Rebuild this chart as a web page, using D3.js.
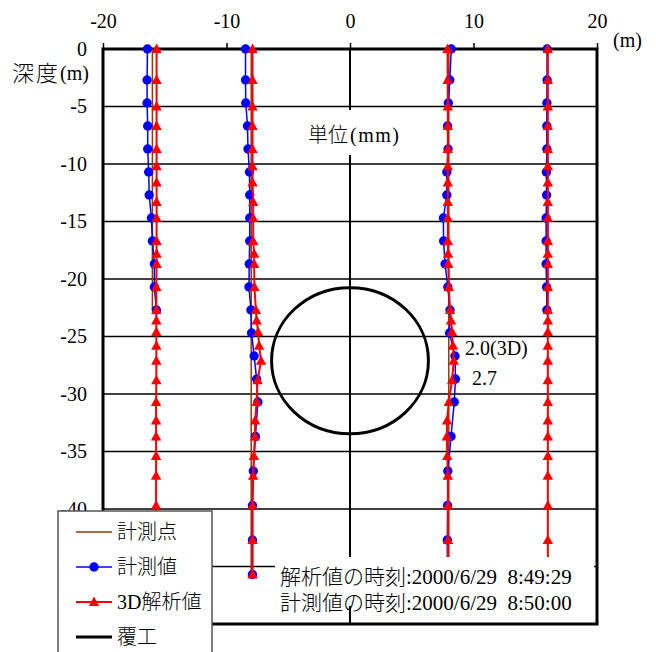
<!DOCTYPE html>
<html>
<head>
<meta charset="utf-8">
<script src="https://cdn.jsdelivr.net/npm/d3@7"></script>
<style>
  html, body { margin: 0; padding: 0; background: #fff; }
  svg { display: block; }
  text { font-family: "Liberation Serif", "Times New Roman", "Noto Sans CJK JP", serif; fill: #000; font-weight: 300; }
</style>
</head>
<body>
<svg id="chart" width="656" height="652"></svg>
<script>
// ---- axis ticks ----
const xTicks = [-20, -10, 0, 10, 20];
const yTicks = [0, -5, -10, -15, -20, -25, -30, -35, -40, -45, -50];
const gridDepths = [-5, -10, -15, -20, -25, -30, -35, -40, -45];

// ---- inclinometer positions (m from tunnel centre) ----
const positions = [-16, -8, 8, 16];

// ---- depths (m) ----
const measureDepths = [0, -2.7, -4.7, -6.7, -8.7, -10.7, -12.7, -14.7, -16.7, -18.7, -20.7,
  -22.7, -24.7, -26.7, -28.7, -30.7, -33.7, -36.7, -39.7, -42.7, -45.7];
const analysisDepths = [0, -2.7, -5.0, -6.7, -8.7, -10.2, -11.6, -13.3, -14.7, -16.7, -17.8,
  -18.7, -20.7, -22.7, -23.6, -24.6, -25.8, -27.1, -28.8, -30.7, -32.3, -33.7, -35.4, -37.1,
  -39.7, -42.7, -45.7];

// ---- measured horizontal displacement (mm) ----
const measuredM16 = [-2.0, -2.15, -2.15, -1.9, -1.9, -1.5, -1.3, -0.4, 0.0, 0.8, 0.8, 1.6];
const measuredM8  = [-2.3, -2.3, -2.2, -1.5, -1.3, -0.7, -0.6, -0.6, -0.6, -0.8, -0.9, -0.1,
  0.15, 1.2, 2.2, 2.7, 1.7, 0.85, 0.5, 0.5, 0.5];
const measuredP8  = [1.0, 0.4, -0.2, -0.5, -0.3, -0.8, -0.8, -2.2, -2.1, -1.5, -0.4, 0.5,
  0.3, 2.5, 2.7, 2.2, 0.9, -0.4, -0.5, -0.6, -0.6];
const measuredP16 = [-0.2, -0.2, -0.3, -0.3, -0.3, -0.5, -0.4, -0.6, -0.6, -0.6, -0.4, -0.3];

// ---- 3D analysis horizontal displacement (mm) ----
const analysisM16 = [1.7, 1.7, 1.7, 1.7, 1.7, 1.7, 1.7, 1.7, 1.7, 1.7, 1.7, 1.7, 1.6, 1.6,
  1.6, 1.6, 1.6, 1.6, 1.6, 1.5, 1.5, 1.5, 1.5, 1.5, 1.5, 1.5, 1.5];
const analysisM8  = [0.55, 0.55, 0.55, 0.55, 0.55, 0.55, 0.55, 0.8, 0.8, 0.8, 1.2, 1.2, 1.3,
  1.9, 2.2, 2.8, 3.2, 4.0, 2.6, 2.2, 1.6, 1.5, 1.1, 0.8, 0.55, 0.55, 0.55];
const analysisP8  = [-0.5, -0.45, -0.4, -0.4, -0.4, -0.4, -0.4, -0.4, -0.4, -0.4, -0.3, -0.2,
  0.0, 0.5, 0.9, 1.3, 1.7, 2.0, 1.3, 0.0, -0.7, -0.8, -0.6, -0.4, -0.3, -0.3, -0.3];
const analysisP16 = [0.1, 0.1, 0.1, 0.1, 0.1, 0.1, 0.1, 0.1, 0.1, 0.1, 0.1, 0.1, 0.1, 0.1,
  0.1, 0.1, 0.1, 0.1, 0.1, 0.1, 0.1, 0.1, 0.1, 0.1, 0.1, 0.1, 0.1];

const measuredSeries = [measuredM16, measuredM8, measuredP8, measuredP16];
const analysisSeries = [analysisM16, analysisM8, analysisP8, analysisP16];

// ---- tunnel lining (m) ----
const liningCentre = [0, -27.1];
const liningRadius = 6.35;

// ---- texts ----
const legendLabels = ["計測点", "計測値", "3D解析値", "覆工"];
const timeLabels = ["解析値の時刻:2000/6/29  8:49:29", "計測値の時刻:2000/6/29  8:50:00"];
const unitLabel = ["単位", "(mm)"];
const depthLabel = ["深度", "(m)"];
const xUnitLabel = "(m)";

// displacement (mm) drawn as offset along the position axis (m per mm)
const DISP_SCALE = 0.2;

const svg = d3.select("#chart");
const x = d3.scaleLinear().domain([-20, 20]).range([103, 597]);
const y = d3.scaleLinear().domain([-50, 0]).range([624, 49]);

const COL_BROWN = "#993300", COL_BLUE = "#0000ff", COL_RED = "#ff0000";
const triPath = "M0,-5.5L5.2,4L-5.2,4Z";

svg.append("rect").attr("width", 656).attr("height", 652).attr("fill", "#fff");

// grid
svg.append("g").selectAll("line").data(gridDepths).join("line")
  .attr("x1", x(-20)).attr("x2", x(20))
  .attr("y1", d => y(d)).attr("y2", d => y(d))
  .attr("stroke", "#000").attr("stroke-width", 1.5);
svg.append("line")
  .attr("x1", x(0)).attr("x2", x(0)).attr("y1", y(0)).attr("y2", y(-50))
  .attr("stroke", "#000").attr("stroke-width", 2);

// tunnel lining
svg.append("ellipse")
  .attr("cx", x(liningCentre[0])).attr("cy", y(liningCentre[1]))
  .attr("rx", x(liningRadius) - x(0)).attr("ry", y(0) - y(liningRadius))
  .attr("fill", "none").attr("stroke", "#000").attr("stroke-width", 3);

// axes
const topAxis = svg.append("g").attr("transform", `translate(0,${y(0)})`)
  .call(d3.axisTop(x).tickValues(xTicks).tickSize(6).tickPadding(15).tickFormat(d => String(d)));
const leftAxis = svg.append("g").attr("transform", `translate(${x(-20)},0)`)
  .call(d3.axisLeft(y).tickValues(yTicks).tickSize(0).tickPadding(16).tickFormat(d => String(d)));
[topAxis, leftAxis].forEach(g => {
  g.attr("font-family", null).attr("font-size", null);
  g.select(".domain").remove();
  g.selectAll(".tick line").attr("stroke", "#000").attr("stroke-width", 1.5);
  g.selectAll(".tick text").attr("font-size", 20).attr("fill", "#000");
});

// plot frame
svg.append("rect")
  .attr("x", x(-20)).attr("y", y(0))
  .attr("width", x(20) - x(-20)).attr("height", y(-50) - y(0))
  .attr("fill", "none").attr("stroke", "#000").attr("stroke-width", 3);

// series
const lineGen = d3.line().x(d => x(d[0])).y(d => y(d[1]));
const data = positions.map((p, i) => {
  const meas = measuredSeries[i];
  const ana = analysisSeries[i];
  return {
    base: meas.map((v, j) => [p, measureDepths[j]]),
    meas: meas.map((v, j) => [p + v * DISP_SCALE, measureDepths[j]]),
    ana: ana.map((v, j) => [p + v * DISP_SCALE, analysisDepths[j]])
  };
});

const gBase = svg.append("g");
const gMeas = svg.append("g");
const gAna = svg.append("g");
data.forEach(s => {
  gBase.append("path").attr("d", lineGen(s.base))
    .attr("fill", "none").attr("stroke", COL_BROWN).attr("stroke-width", 1.5);
});
data.forEach(s => {
  gMeas.append("path").attr("d", lineGen(s.meas))
    .attr("fill", "none").attr("stroke", COL_BLUE).attr("stroke-width", 1.5);
  gMeas.append("g").selectAll("circle").data(s.meas).join("circle")
    .attr("cx", d => x(d[0])).attr("cy", d => y(d[1])).attr("r", 4.7)
    .attr("fill", COL_BLUE);
});
data.forEach(s => {
  gAna.append("path").attr("d", lineGen(s.ana))
    .attr("fill", "none").attr("stroke", COL_RED).attr("stroke-width", 2);
  gAna.append("g").selectAll("path").data(s.ana).join("path")
    .attr("d", triPath)
    .attr("transform", d => `translate(${x(d[0])},${y(d[1])})`)
    .attr("fill", COL_RED);
});

// unit note
svg.append("rect").attr("x", 302).attr("y", 110).attr("width", 100).attr("height", 45).attr("fill", "#fff");
const ut = svg.append("text").attr("x", 308).attr("y", 135)
  .attr("dominant-baseline", "central").attr("font-size", 20);
ut.append("tspan").text(unitLabel[0]);
ut.append("tspan").attr("dx", 2).attr("letter-spacing", 1.5).text(unitLabel[1]);

// peak value notes at the +8 m inclinometer
const peakAna = d3.max(analysisP8);
const peakMeas = d3.max(measuredP8);
svg.append("text").attr("x", 465).attr("y", 348).attr("dominant-baseline", "central")
  .attr("font-size", 20).text(peakAna.toFixed(1) + "(3D)");
svg.append("text").attr("x", 472).attr("y", 378).attr("dominant-baseline", "central")
  .attr("font-size", 20).text(peakMeas.toFixed(1));

// axis titles
const dt = svg.append("text").attr("x", 12).attr("y", 73).attr("dominant-baseline", "central")
  .attr("font-size", 20);
dt.append("tspan").attr("font-size", 22).attr("letter-spacing", 2).text(depthLabel[0]);
dt.append("tspan").text(depthLabel[1]);
svg.append("text").attr("x", 613).attr("y", 40).attr("dominant-baseline", "central")
  .attr("font-size", 20).text(xUnitLabel);

// time stamps
svg.append("rect").attr("x", 275).attr("y", 557).attr("width", 319).attr("height", 49).attr("fill", "#fff");
svg.append("g").selectAll("text").data(timeLabels).join("text")
  .attr("x", 280).attr("y", (d, i) => 577 + i * 26)
  .attr("dominant-baseline", "central").attr("font-size", 21)
  .style("white-space", "pre").text(d => d);

// legend
const lg = svg.append("g");
lg.append("rect").attr("x", 58).attr("y", 511).attr("width", 154).attr("height", 160)
  .attr("fill", "#fff").attr("stroke", "#555").attr("stroke-width", 1.5);
const legendStyles = [
  { color: COL_BROWN, width: 1.5, marker: null },
  { color: COL_BLUE, width: 1.5, marker: "circle" },
  { color: COL_RED, width: 2, marker: "tri" },
  { color: "#000", width: 3, marker: null }
];
legendLabels.forEach((lab, i) => {
  const ly = 532 + i * 35;
  const st = legendStyles[i];
  lg.append("line").attr("x1", 76).attr("x2", 112).attr("y1", ly).attr("y2", ly)
    .attr("stroke", st.color).attr("stroke-width", st.width);
  if (st.marker === "circle") {
    lg.append("circle").attr("cx", 94).attr("cy", ly).attr("r", 4.7).attr("fill", st.color);
  } else if (st.marker === "tri") {
    lg.append("path").attr("d", triPath).attr("transform", `translate(94,${ly})`).attr("fill", st.color);
  }
  lg.append("text").attr("x", 117).attr("y", ly).attr("dominant-baseline", "central")
    .attr("font-size", 20).text(lab);
});
</script>
</body>
</html>
